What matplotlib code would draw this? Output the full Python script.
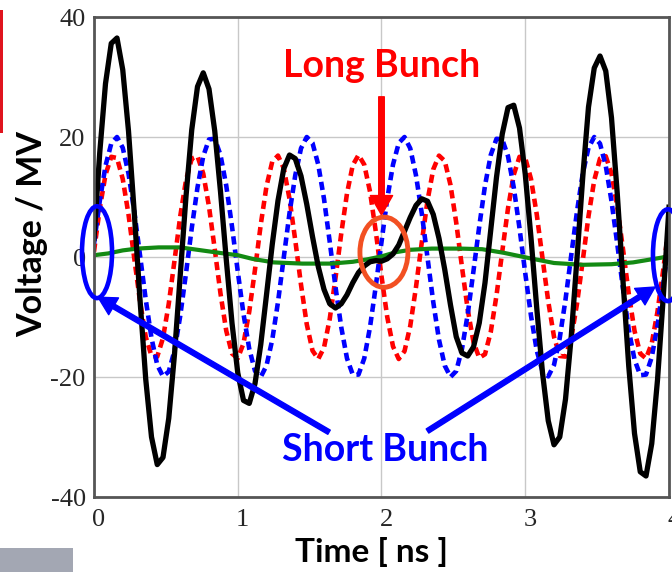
import matplotlib
matplotlib.use("Agg")
import matplotlib.pyplot as plt
import matplotlib.transforms as mtransforms
import numpy as np
from matplotlib.patches import Ellipse, Rectangle

# time axis of the sampled traces, ns
TIME = np.linspace(0, 4, 101)

# long-bunch mode (red dashed), MV
RED = [0.9, 8.1, 13.7, 16.7, 16.5, 13.0, 7.1, -0.2, -7.4, -13.3,
       -16.5, -16.6, -13.5, -7.8, -0.6, 6.8, 12.8, 16.4, 16.8, 13.9,
       8.4, 1.3, -6.1, -12.3, -16.1, -16.9, -14.4, -9.1, -2.1, 5.4,
       11.8, 15.9, 16.9, 14.8, 9.7, 2.8, -4.6, -11.2, -15.6, -17.0,
       -15.1, -10.3, -3.5, 3.9, 10.6, 15.3, 17.0, 15.4, 10.9, 4.3,
       -3.2, -10.0, -14.9, -17.0, -15.7, -11.5, -5.0, 2.4, 9.4, 14.6,
       16.9, 16.0, 12.0, 5.7, -1.7, -8.8, -14.2, -16.8, -16.2, -12.5,
       -6.4, 0.9, 8.1, 13.7, 16.7, 16.5, 13.0, 7.1, -0.2, -7.4,
       -13.3, -16.5, -16.6, -13.5, -7.8, -0.6, 6.8, 12.8, 16.4, 16.8,
       13.9, 8.4, 1.3, -6.1, -12.3, -16.1, -16.9, -14.4, -9.1, -2.1,
       5.4]

# short-bunch mode (blue dashed), MV
BLUE = [2.2, 9.3, 15.2, 18.9, 20.0, 18.2, 13.9, 7.6, 0.3, -7.1,
        -13.5, -18.0, -19.9, -19.1, -15.6, -9.8, -2.7, 4.8, 11.6, 16.8,
        19.6, 19.7, 17.0, 11.9, 5.1, -2.4, -9.5, -15.3, -19.0, -20.0,
        -18.1, -13.8, -7.5, -0.1, 7.3, 13.6, 18.1, 20.0, 19.0, 15.4,
        9.7, 2.5, -5.0, -11.7, -16.9, -19.6, -19.6, -16.9, -11.7, -4.9,
        2.5, 9.7, 15.4, 19.0, 20.0, 18.1, 13.6, 7.3, -0.1, -7.5,
        -13.8, -18.1, -20.0, -19.0, -15.3, -9.5, -2.3, 5.1, 11.9, 17.0,
        19.7, 19.6, 16.8, 11.6, 4.8, -2.7, -9.8, -15.6, -19.1, -19.9,
        -18.0, -13.5, -7.1, 0.3, 7.6, 13.9, 18.2, 20.0, 18.9, 15.2,
        9.3, 2.2, -5.3, -12.1, -17.1, -19.7, -19.6, -16.7, -11.4, -4.6,
        2.9]

# total cavity voltage (black), MV
TOTAL = [3.1, 17.4, 28.9, 35.6, 36.5, 31.2, 21.0, 7.4, -7.1, -20.4,
         -30.0, -34.6, -33.4, -26.9, -16.2, -3.0, 10.1, 21.2, 28.4, 30.7,
         28.0, 21.0, 10.9, -0.4, -11.0, -19.3, -23.9, -24.4, -21.1, -14.6,
         -6.3, 2.1, 9.4, 14.7, 17.0, 16.4, 13.5, 8.8, 3.4, -1.6,
         -5.4, -7.8, -8.5, -7.8, -6.3, -4.3, -2.6, -1.5, -0.8, -0.6,
         -0.7, -0.3, 0.5, 2.0, 4.3, 6.6, 8.6, 9.7, 9.3, 7.1,
         3.1, -2.1, -8.0, -13.3, -16.0, -16.5, -15.0, -11.0, -4.3, 4.5,
         13.3, 20.5, 24.9, 25.3, 21.5, 13.8, 3.2, -8.5, -19.3, -27.3,
         -31.3, -30.0, -23.7, -13.2, -0.2, 13.3, 25.0, 31.5, 33.5, 31.0,
         23.2, 10.6, -4.0, -18.2, -29.4, -35.8, -36.5, -31.1, -20.5, -6.7,
         8.3]

# beam-loading trace (green)
GREEN_T = [0, 0.1, 0.2, 0.3, 0.45, 0.6, 0.75, 0.9, 1.0, 1.1, 1.25, 1.45,
           1.65, 1.8, 1.9, 2.0, 2.1, 2.2, 2.35, 2.55, 2.7, 2.85, 2.95, 3.05,
           3.2, 3.4, 3.6, 3.75, 3.85, 3.95, 4.0]
GREEN_V = [0.3, 0.6, 1.1, 1.4, 1.6, 1.6, 1.1, 0.6, 0.3, -0.3, -0.9, -1.1,
           -1.1, -0.8, -0.4, 0.1, 0.8, 1.2, 1.4, 1.4, 1.3, 0.7, 0.2, -0.3,
           -1.0, -1.3, -1.2, -0.9, -0.5, -0.1, 0.1]

XTICKS = [0, 1, 2, 3, 4]
YTICKS = [-40, -20, 0, 20, 40]

plt.rcParams["axes.unicode_minus"] = False
LABEL_FONT = ["Lato", "DejaVu Sans"]

fig = plt.figure(figsize=(6.72, 5.72), dpi=100)
ax = fig.add_axes([94 / 672, 75 / 572, 575 / 672, 480 / 572])

ax.plot(TIME, RED, color="#ff0000", lw=3.3, dashes=(1.8, 1.1), zorder=2)
ax.plot(TIME, BLUE, color="#0000ff", lw=3.3, dashes=(1.8, 1.1), zorder=2.1)
ax.plot(GREEN_T, GREEN_V, color="#138a13", lw=3, zorder=2.2)
ax.plot(TIME, TOTAL, color="black", lw=3.8, zorder=2.3)

ax.set_xlim(0, 4)
ax.set_ylim(-40, 40)
ax.set_xticks(XTICKS)
ax.set_yticks(YTICKS)
ax.grid(color="#c8c8c8", lw=1.0)
ax.set_axisbelow(True)
ax.tick_params(length=0, labelsize=19, labelcolor="#262626")
ax.tick_params(axis="x", pad=9)
ax.tick_params(axis="y", pad=6)
for lab in ax.get_xticklabels() + ax.get_yticklabels():
    lab.set_family(["Liberation Serif", "DejaVu Serif"])
shift = mtransforms.ScaledTranslation(5 / 100, 0, fig.dpi_scale_trans)
for lab in ax.get_xticklabels():
    lab.set_transform(lab.get_transform() + shift)
for sp in ax.spines.values():
    sp.set_color("#555555")
    sp.set_linewidth(2)

ax.set_xlabel("Time [ ns ]", fontsize=24, fontweight="bold", family=LABEL_FONT, va="center")
ax.xaxis.set_label_coords(0.482, -0.115)
ax.set_ylabel("Voltage / MV", fontsize=24.5, fontweight="bold", family=LABEL_FONT, va="center")
ax.yaxis.set_label_coords(-0.108, 0.548)

# annotations
ax.text(2.0, 31.8, "Long Bunch", color="#ff0000", fontsize=27, fontweight="bold",
        family=LABEL_FONT, ha="center", va="center", zorder=6)
ax.annotate("", xy=(2.0, 7.0), xytext=(2.0, 26.7),
            arrowprops=dict(color="#ff0000", width=4, headwidth=16, headlength=14, shrink=0),
            zorder=6)
ax.add_patch(Ellipse((2.017, 0.8), 0.334, 11.7, fill=False, ec="#f25022", lw=3.5, zorder=6))

ax.text(2.024, -32.2, "Short Bunch", color="#0000ff", fontsize=27, fontweight="bold",
        family=LABEL_FONT, ha="center", va="center", zorder=6)
for tip, start in [((0.028, -6.7), (1.635, -29.2)), ((3.903, -5.0), (2.32, -29.0))]:
    ax.annotate("", xy=tip, xytext=start, annotation_clip=False,
                arrowprops=dict(color="#0000ff", width=3.5, headwidth=14, headlength=13, shrink=0),
                zorder=6)
for cx, cy in [(0.021, 0.8), (3.993, 0.3)]:
    ax.add_patch(Ellipse((cx, cy), 0.209, 15.3, fill=False, ec="#0000ff", lw=3.3,
                         clip_on=False, zorder=6))

# slide remnants around the chart
fig.add_artist(Rectangle((0, 1 - 133 / 572), 3 / 672, 123 / 572, transform=fig.transFigure,
                         color="#e0141e", lw=0))
fig.add_artist(Rectangle((0, 0), 73 / 672, 24 / 572, transform=fig.transFigure,
                         color="#a3a7b3", lw=0))

fig.savefig("out.png", dpi=100)
